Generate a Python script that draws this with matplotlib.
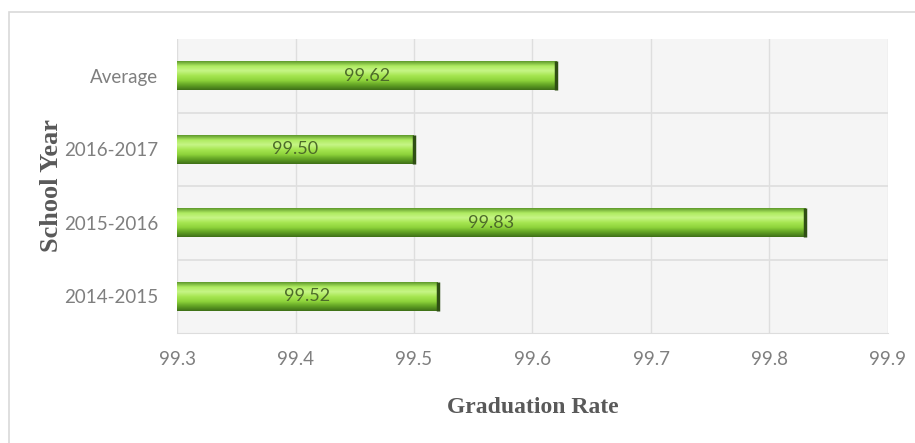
import matplotlib.pyplot as plt
import matplotlib.patches as mpatches
from matplotlib.colors import LinearSegmentedColormap
import numpy as np

# dados do grafico (de baixo para cima)
school_years = ['2014-2015', '2015-2016', '2016-2017', 'Average']
grad_rates = [99.52, 99.83, 99.50, 99.62]
rate_labels = ['99.52', '99.83', '99.50', '99.62']
x_ticks = [99.3, 99.4, 99.5, 99.6, 99.7, 99.8, 99.9]

x_min, x_max = 99.3, 99.9
bar_h = 0.39

tick_font = ['Lato', 'DejaVu Sans']
title_font = ['Liberation Serif', 'DejaVu Serif']

fig = plt.figure(figsize=(9.15, 4.43), dpi=100)
fig.patch.set_facecolor('white')

# moldura cinza clara do grafico
frame = mpatches.Rectangle((9 / 915, -0.05), 1.0, 1 - 12 / 443 + 0.05,
                           transform=fig.transFigure, fill=False,
                           edgecolor='#d9d9d9', linewidth=1.2)
fig.patches.append(frame)

ax = fig.add_axes([177 / 915, 1 - 333 / 443, 711 / 915, 294 / 443])
ax.set_facecolor('#f5f5f5')

# degradê vertical da barra
green = LinearSegmentedColormap.from_list(
    'grn', ['#3f7018', '#62a324', '#8fd43c', '#a6e651', '#c6f586', '#b0ec62', '#5f9a2c'])
grad = np.linspace(0, 1, 64).reshape(-1, 1)

ypos = np.arange(len(school_years))
bars = ax.barh(ypos, [v - x_min for v in grad_rates], left=x_min, height=bar_h,
               color='#8fd13f', edgecolor='none', zorder=3)
for b, v, y in zip(bars, grad_rates, ypos):
    im = ax.imshow(grad, cmap=green, aspect='auto', origin='lower',
                   extent=[x_min, v, y - bar_h / 2, y + bar_h / 2], zorder=4)
    im.set_clip_path(b)
    ax.plot([v, v], [y - bar_h / 2, y + bar_h / 2], color='#2f4f14', lw=2.5,
            solid_capstyle='butt', zorder=5)

for v, lab, y in zip(grad_rates, rate_labels, ypos):
    ax.text((x_min + v) / 2, y, lab, ha='center', va='center', fontsize=13,
            color='#4d6b2a', family=tick_font, zorder=6)

ax.set_xlim(x_min, x_max)
ax.set_ylim(-0.5, len(school_years) - 0.5)
ax.set_xticks(x_ticks)
ax.set_xticklabels([f'{t:.1f}' for t in x_ticks])
ax.set_yticks(ypos)
ax.set_yticklabels(school_years)

# grade: linhas verticais nos ticks e horizontais entre categorias
for t in x_ticks:
    ax.axvline(t, color='#dedede', lw=1, zorder=1)
for k in range(1, len(school_years)):
    ax.axhline(k - 0.5, color='#dedede', lw=1.2, zorder=1)

for s in ['top', 'right', 'left']:
    ax.spines[s].set_visible(False)
ax.spines['bottom'].set_color('#dddddd')
ax.tick_params(length=0)
ax.tick_params(axis='x', pad=13)
ax.tick_params(axis='y', pad=13.5)
for lab in ax.get_xticklabels() + ax.get_yticklabels():
    lab.set_family(tick_font)
    lab.set_fontsize(13.5)
    lab.set_color('#7f7f7f')

ax.set_xlabel('Graduation Rate', family=title_font, fontweight='bold',
              fontsize=17, color='#595959', labelpad=21)
ax.set_ylabel('School Year', family=title_font, fontweight='bold',
              fontsize=19, color='#595959', labelpad=1)

fig.savefig('out.png', dpi=100)
